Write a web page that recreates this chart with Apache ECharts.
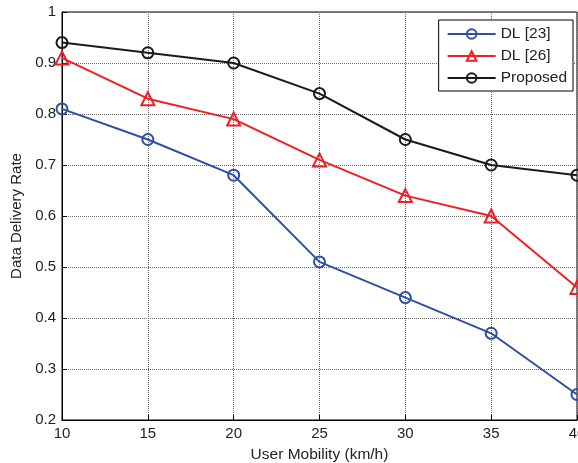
<!DOCTYPE html>
<html><head><meta charset="utf-8">
<script src="https://cdn.jsdelivr.net/npm/echarts@6/dist/echarts.min.js"></script>
<style>html,body{margin:0;padding:0;background:#fff}#c{width:578px;height:463px}</style>
</head><body><div id="c"></div>
<script>
const categories = [10, 15, 20, 25, 30, 35, 40];
const dl23 = [0.81, 0.75, 0.68, 0.51, 0.44, 0.37, 0.25];
const dl26 = [0.91, 0.83, 0.79, 0.71, 0.64, 0.60, 0.46];
const proposed = [0.94, 0.92, 0.90, 0.84, 0.75, 0.70, 0.68];
const seriesNames = ['DL [23]', 'DL [26]', 'Proposed'];
const yTicks = [0.2, 0.3, 0.4, 0.5, 0.6, 0.7, 0.8, 0.9, 1];

const chart = echarts.init(document.getElementById('c'));
const font = 'Liberation Sans, Arial, sans-serif';
const pairs = a => categories.map((x, i) => [x, a[i]]);
const mk = (name, data, color, symbol, size) => ({
  name, type: 'line', data: pairs(data), symbol, symbolSize: size,
  lineStyle: { color, width: 2 },
  itemStyle: { color: 'rgba(255,255,255,0)', borderColor: color, borderWidth: 2 },
  z: 3
});
chart.setOption({
  animation: false,
  grid: { left: 62, right: 1, top: 12, bottom: 43, outerBoundsMode: 'none', containLabel: false,
    show: true, borderColor: '#000', borderWidth: 1 },
  xAxis: {
    type: 'value', min: 10, max: 40, interval: 5,
    name: 'User Mobility (km/h)', nameLocation: 'middle', nameGap: 27,
    nameTextStyle: { fontFamily: font, fontSize: 15.5, color: '#222' },
    axisLine: { lineStyle: { color: '#000' } },
    axisTick: { inside: true, length: 5, lineStyle: { color: '#000' } },
    axisLabel: { fontFamily: font, fontSize: 15, color: '#222', margin: 6 },
    splitLine: { show: true, lineStyle: { type: [1, 1], color: '#666' } }
  },
  yAxis: {
    type: 'value', min: 0.2, max: 1, interval: 0.1,
    name: 'Data Delivery Rate', nameLocation: 'middle', nameGap: 38,
    nameTextStyle: { fontFamily: font, fontSize: 15, color: '#222' },
    axisLine: { lineStyle: { color: '#000' } },
    axisTick: { inside: true, length: 5, lineStyle: { color: '#000' } },
    axisLabel: { fontFamily: font, fontSize: 15, color: '#222', margin: 6,
      formatter: v => { const t = yTicks.find(y => Math.abs(y - v) < 1e-9); return t === undefined ? '' : String(t); } },
    splitLine: { show: true, lineStyle: { type: [1, 1], color: '#666' } }
  },
  legend: {
    data: seriesNames, orient: 'vertical', right: 5, top: 20,
    backgroundColor: '#fff', borderColor: '#000', borderWidth: 1,
    padding: [6, 6, 5, 8], itemGap: 6, itemWidth: 48, itemHeight: 12,
    textStyle: { fontFamily: font, fontSize: 15.5, color: '#222' }
  },
  series: [
    mk(seriesNames[0], dl23, '#2f4fa2', 'circle', 11),
    mk(seriesNames[1], dl26, '#ee1f25', 'triangle', 13),
    mk(seriesNames[2], proposed, '#1a1a1a', 'circle', 11)
  ]
});
</script></body></html>
